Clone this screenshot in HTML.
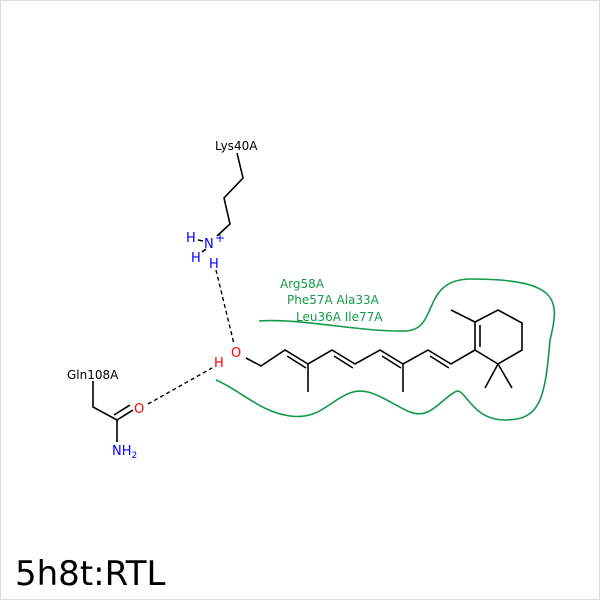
<!DOCTYPE html>
<html><head><style>body{margin:0;background:#fff}svg{display:block}</style></head><body>
<svg width="600" height="600" viewBox="0 0 600 600" xmlns="http://www.w3.org/2000/svg" font-family="DejaVu Sans, Liberation Sans, sans-serif">
<rect x="0.5" y="0.5" width="599" height="599" fill="#fff" stroke="#ddd"/>
<g stroke="#000" stroke-width="1.6" fill="none">
<polyline points="237,153 243,178 224,198 230,224 217,236"/>
<polyline points="246,358 261,366 285,350 308,364 332,350 355,364 380,350 403,364 428,350 451,364 475,350"/>
<line x1="287" y1="356" x2="306" y2="368"/>
<line x1="334" y1="356" x2="353" y2="368"/>
<line x1="382" y1="356" x2="401" y2="368"/>
<line x1="430" y1="356" x2="449" y2="368"/>
<line x1="308" y1="364" x2="308" y2="392"/>
<line x1="403" y1="364" x2="403" y2="392"/>
<polygon points="475,350 475,322 498,310 522,323 522,350 498,364"/>
<line x1="480" y1="347" x2="480" y2="325"/>
<line x1="475" y1="322" x2="451" y2="310"/>
<line x1="498" y1="364" x2="485" y2="388"/>
<line x1="498" y1="364" x2="512" y2="388"/>
<polyline points="93,381 93,407 117,420 117,442"/>
<line x1="117" y1="420" x2="133" y2="410"/>
<line x1="114" y1="415" x2="130" y2="405"/>
<line x1="203" y1="241" x2="198" y2="240"/>
<line x1="206" y1="249" x2="202" y2="252"/>
</g>
<g stroke="#000" stroke-width="1.4" stroke-dasharray="4,3">
<line x1="216" y1="270" x2="234" y2="344"/>
<line x1="148" y1="404" x2="212" y2="368"/>
</g>
<path d="M259,321 C300,318 360,332 405,331 C440,330 420,280 470,279 C560,279 560,300 550,340 C545,400 540,420 505,420 C470,420 465,385 455,392 C440,400 430,420 410,412 C390,404 370,385 350,393 C330,400 320,420 290,416 C260,412 240,390 216,380" fill="none" stroke="#129a49" stroke-width="1.6"/>
<g font-size="12">
<text x="215" y="150" fill="#000">Lys40A</text>
<text x="67" y="379" fill="#000">Gln108A</text>
<text x="204" y="248" fill="#00f" font-size="13">N</text>
<text x="215" y="242" fill="#00f">+</text>
<text x="186" y="242" fill="#00f" font-size="13">H</text>
<text x="191" y="262" fill="#00f" font-size="13">H</text>
<text x="209" y="268" fill="#00f" font-size="13">H</text>
<text x="231" y="357" fill="#f00" font-size="13">O</text>
<text x="214" y="367" fill="#f00" font-size="13">H</text>
<text x="134" y="413" fill="#f00" font-size="13">O</text>
<text x="112" y="455" fill="#00f" font-size="13">NH<tspan font-size="9" dy="3">2</tspan></text>
<g fill="#129a49">
<text x="280" y="288">Arg58A</text>
<text x="287" y="304">Phe57A Ala33A</text>
<text x="296" y="321">Leu36A  Ile77A</text>
</g>
</g>
<text x="15" y="585" font-size="34" fill="#000">5h8t:RTL</text>
</svg>
</body></html>
